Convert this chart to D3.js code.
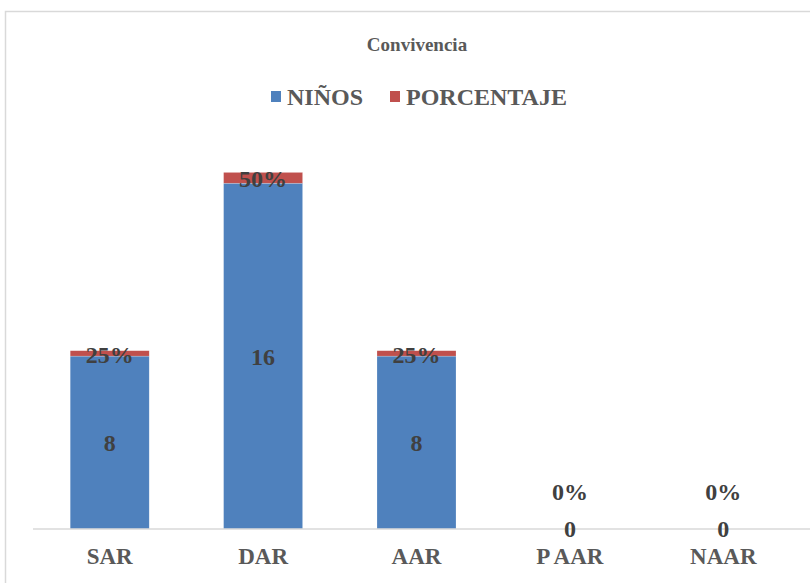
<!DOCTYPE html>
<html lang="es">
<head>
<meta charset="UTF-8">
<title>Convivencia</title>
<script src="https://d3js.org/d3.v7.min.js"></script>
<style>
  body { margin: 0; background: #fff; }
  svg text { font-family: "Liberation Serif", "Times New Roman", serif; font-weight: bold; }
</style>
</head>
<body>
<div id="chart"></div>
<script>
var categories = ["SAR", "DAR", "AAR", "P AAR", "NAAR"];
var ninos = [8, 16, 8, 0, 0];
var porcentaje = [0.25, 0.5, 0.25, 0, 0];
var seriesNames = ["NIÑOS", "PORCENTAJE"];
var colors = ["#4F81BD", "#C0504D"];

var W = 810, H = 583;
var x0 = 33, x1 = 800, yTop = 140, yBase = 529;

var svg = d3.select("#chart").append("svg").attr("width", W).attr("height", H);

// chart area frame
svg.append("rect").attr("x", 5.5).attr("y", 11.5).attr("width", 830).attr("height", 620)
  .attr("fill", "#fff").attr("stroke", "#d9d9d9").attr("stroke-width", 1.5);

var rows = categories.map(function(c, i) { return {cat: c, "NIÑOS": ninos[i], "PORCENTAJE": porcentaje[i]}; });
var stacked = d3.stack().keys(seriesNames)(rows);

var x = d3.scaleBand().domain(categories).range([x0, x1]).paddingInner(0.485).paddingOuter(0.2425);
var y = d3.scaleLinear().domain([0, 18]).range([yBase, yTop]);

// bars
svg.append("g").selectAll("g").data(stacked).enter().append("g")
  .attr("fill", function(d, i) { return colors[i]; })
  .selectAll("rect").data(function(d) { return d; }).enter().append("rect")
  .attr("x", function(d) { return x(d.data.cat); })
  .attr("y", function(d) { return y(d[1]); })
  .attr("width", x.bandwidth())
  .attr("height", function(d) { return y(d[0]) - y(d[1]); })
  .attr("stroke", "#fff").attr("stroke-opacity", 0.4).attr("stroke-width", 0.5);

// axis
var axis = svg.append("g").attr("transform", "translate(0," + yBase + ")")
  .call(d3.axisBottom(x).tickSize(0).tickPadding(19));
axis.select(".domain").attr("stroke", "#d9d9d9").attr("stroke-width", 1.5)
  .attr("d", "M" + x0 + ",0H" + 812);
axis.selectAll("text").attr("font-size", 23).attr("fill", "#595959");

// data labels
var lab = svg.append("g").attr("font-size", 24)
  .attr("fill", "#404040").attr("text-anchor", "middle");
stacked[0].forEach(function(d) {
  lab.append("text").attr("x", x(d.data.cat) + x.bandwidth() / 2)
    .attr("y", (y(d[0]) + y(d[1])) / 2).attr("dy", "0.35em").text(d.data["NIÑOS"]);
});
stacked[1].forEach(function(d) {
  var v = d.data["PORCENTAJE"];
  var cy = (y(d[0]) + y(d[1])) / 2 + 1;
  if (v === 0) cy = y(0) - 37;
  lab.append("text").attr("x", x(d.data.cat) + x.bandwidth() / 2)
    .attr("y", cy).attr("dy", "0.35em").text(d3.format(".0%")(v));
});

// title
svg.append("text").attr("x", 417).attr("y", 51).attr("text-anchor", "middle")
  .attr("font-size", 19).attr("fill", "#595959").text("Convivencia");

// legend
var legX = [271, 390];
var leg = svg.append("g");
seriesNames.forEach(function(s, i) {
  leg.append("rect").attr("x", legX[i]).attr("y", 91).attr("width", 10).attr("height", 11).attr("fill", colors[i]);
  leg.append("text").attr("x", legX[i] + 16).attr("y", 105).attr("font-size", 24)
    .attr("fill", "#595959").text(s);
});
</script>
</body>
</html>
